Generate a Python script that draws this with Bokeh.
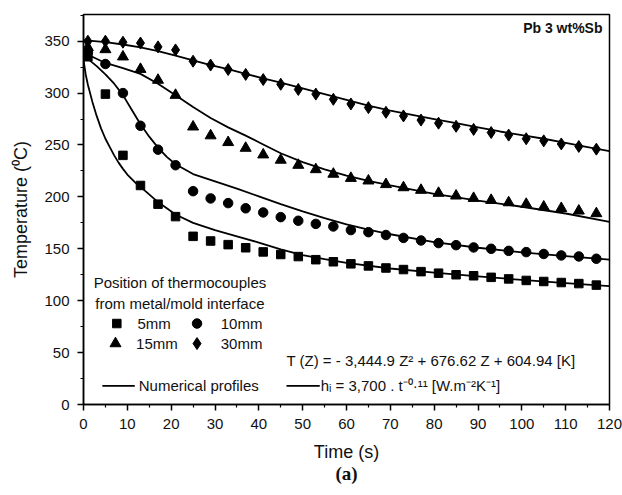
from bokeh.plotting import figure
from bokeh.models import Range1d, FixedTicker, Label, Title
from bokeh.embed import file_html
from bokeh.resources import INLINE

# ---------------- data ----------------
time_s = [1, 5, 9, 13, 17, 21, 25, 29, 33, 37, 41, 45, 49, 53, 57, 61, 65, 69,
          73, 77, 81, 85, 89, 93, 97, 101, 105, 109, 113, 117]
T_5mm = [335, 299, 240, 211, 193, 181, 162, 157.5, 154, 151, 147, 144.5, 142.5,
         139.5, 137.5, 135.5, 133.5, 131.5, 130, 128, 126.5, 125, 124, 122.5,
         121, 119.5, 118.5, 117.5, 116.5, 115]
T_10mm = [339, 328, 300, 268.5, 245.5, 230.5, 205.5, 198.5, 194, 189, 185, 180.5,
          177, 174, 171.5, 168, 166, 163.3, 160.5, 158, 155.5, 153.5, 151.3, 150,
          148, 146.8, 145, 143.6, 142.6, 140.4]
T_15mm = [344, 342, 335, 323, 312.5, 298, 267.5, 259, 252.5, 247, 240.6, 235.5,
          230.6, 226.4, 222, 218, 215.5, 212, 209, 206.5, 203.6, 201, 198.7,
          196.8, 194.5, 193, 190.4, 189, 186.5, 184]
T_30mm = [350, 350, 349, 348.2, 344.5, 341.6, 330.7, 327, 322.7, 318, 313, 308.5,
          303.5, 299, 294, 289.5, 286, 281.5, 278, 274, 271, 268, 265, 262,
          259.5, 256, 254, 251, 248.6, 246]

# numerical profiles
num5_t = [0, 0.5, 1, 2, 3, 4, 5, 6, 7, 8, 9, 10, 12, 14, 17, 21, 25, 30, 35, 40,
          45, 50, 55, 60, 70, 80, 90, 100, 110, 120]
num5_T = [332, 318, 308, 292, 278, 266, 256, 248, 240, 233, 227, 221.5, 213, 206,
          195, 183, 175, 168, 162, 156, 149.5, 144, 140, 136.5, 131, 127, 123.5,
          120, 117, 114]
num10_t = [0, 1, 3, 5, 7, 9, 11, 13, 15, 17, 19, 21, 25, 30, 35, 40, 45, 50, 55,
           60, 65, 70, 80, 90, 100, 110, 120]
num10_T = [336, 333, 326, 318, 309, 298, 284, 270, 258, 247.5, 238.5, 231.5,
           222, 215, 208, 200.5, 193, 186, 179.5, 173.5, 168.5, 164, 156.5, 151,
           146.5, 143, 139.5]
num15_t = [0, 2, 5, 9, 13, 17, 21, 25, 29, 33, 37, 41, 45, 50, 55, 60, 65, 70,
           75, 80, 90, 100, 110, 120]
num15_T = [340, 335, 329, 324, 318.5, 309, 298, 286.5, 276, 267, 259, 250.5, 242,
           233.5, 226.5, 220.5, 215.5, 211, 207, 203, 196.5, 190.5, 184, 176]
num30_t = [0, 5, 9, 13, 17, 21, 25, 29, 33, 37, 41, 45, 50, 55, 60, 65, 70, 75,
           80, 85, 90, 95, 100, 105, 110, 115, 120]
num30_T = [351, 349, 346.8, 344, 340.5, 336, 331.5, 327, 323, 318.5, 314.2, 310,
           304.5, 299, 293.5, 288, 283, 279, 275, 271, 267, 263, 259.5, 256, 252,
           248, 244]

x_ticks = [0, 10, 20, 30, 40, 50, 60, 70, 80, 90, 100, 110, 120]
y_ticks = [0, 50, 100, 150, 200, 250, 300, 350]

FONT = "'Liberation Sans', Arial, sans-serif"
SERIF = "'Liberation Serif', 'Times New Roman', serif"

p = figure(width=622, height=495, output_backend="svg", toolbar_location=None,
           x_range=Range1d(0, 120), y_range=Range1d(0, 375.7),
           min_border_left=83, min_border_right=13, min_border_top=14,
           min_border_bottom=91)
p.xgrid.visible = False
p.ygrid.visible = False
p.outline_line_color = "black"
p.outline_line_width = 1.5
p.background_fill_color = "white"
p.border_fill_color = "white"

p.xaxis.ticker = FixedTicker(ticks=x_ticks, minor_ticks=[v + 5 for v in x_ticks[:-1]])
p.yaxis.ticker = FixedTicker(ticks=y_ticks, minor_ticks=[v + 25 for v in y_ticks])
for ax in (p.xaxis, p.yaxis):
    ax.axis_line_width = 1.5
    ax.axis_line_color = "black"
    ax.major_tick_line_width = 1.5
    ax.minor_tick_line_width = 1.2
    ax.major_tick_out = 6
    ax.major_tick_in = 0
    ax.minor_tick_out = 3
    ax.minor_tick_in = 0
    ax.major_label_text_font = FONT
    ax.major_label_text_font_size = "15px"
    ax.major_label_text_color = "#111111"
    ax.axis_label_text_font = FONT
    ax.axis_label_text_font_size = "18px"
    ax.axis_label_text_font_style = "normal"
    ax.axis_label_text_color = "#111111"
p.xaxis.axis_label = "Time (s)"
p.yaxis.axis_label = "Temperature (\u2070C)"
p.xaxis.major_label_standoff = 8
p.yaxis.major_label_standoff = 8
p.xaxis.axis_label_standoff = 10
p.yaxis.axis_label_standoff = 10

p.add_layout(Title(text="(a)", align="center", text_font=SERIF,
                   text_font_size="19px", text_font_style="bold",
                   text_color="#111111", standoff=-8, offset=0), "below")

LW = 1.8
for tt, TT in ((num5_t, num5_T), (num10_t, num10_T), (num15_t, num15_T), (num30_t, num30_T)):
    p.line(tt, TT, line_color="black", line_width=LW)

p.scatter(time_s, T_5mm, marker="square", size=8.5, color="black")
p.scatter(time_s, T_10mm, marker="circle", size=9.5, color="black")
p.scatter(time_s, T_15mm, marker="triangle", size=11, color="black")
p.scatter(time_s, T_30mm, marker="diamond", size=12, color="black")

# ---------------- annotations / legend ----------------
def lab(x, y, text, size="15px", align="left", style="normal", font=FONT):
    p.add_layout(Label(x=x, y=y, text=text, text_font=font, text_font_size=size,
                       text_align=align, text_baseline="middle",
                       text_font_style=style, text_color="#111111"))

lab(22, 117.7, "Position of thermocouples", align="center")
lab(22, 97.4, "from metal/mold interface", align="center")
p.scatter([7.6], [78], marker="square", size=8.5, color="black")
lab(12.3, 78, "5mm")
p.scatter([25.9], [78], marker="circle", size=9.5, color="black")
lab(31.3, 78, "10mm")
p.scatter([7.3], [58.7], marker="triangle", size=11, color="black")
lab(12.0, 58.7, "15mm")
p.scatter([25.9], [58.7], marker="diamond", size=12, color="black")
lab(31.3, 58.7, "30mm")

lab(46.3, 42.6, "T (Z) =  - 3,444.9  Z\u00b2 + 676.62  Z + 604.94 [K]")
p.line([4.3, 11.7], [17.9, 17.9], line_color="black", line_width=LW)
lab(12.6, 17.9, "Numerical profiles")
p.line([46.3, 53.9], [17.9, 17.9], line_color="black", line_width=LW)
lab(54.1, 17.9, "h\u1d62 = 3,700 . t\u207b\u2070\u00b7\u00b9\u00b9  [W.m\u207b\u00b2K\u207b\u00b9]")

lab(118.4, 363, "Pb 3 wt%Sb", size="14px", align="right", style="bold")

open("out.html", "w").write(file_html(p, INLINE))
